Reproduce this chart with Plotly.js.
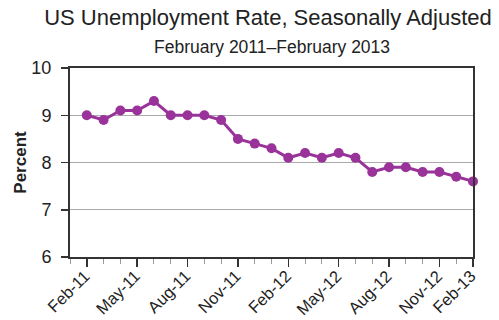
<!DOCTYPE html>
<html>
<head>
<meta charset="utf-8">
<script src="https://cdn.plot.ly/plotly-3.0.1.min.js"></script>
<style>html,body{margin:0;padding:0;background:#fff;}</style>
</head>
<body>
<div id="chart" style="width:499px;height:320px;"></div>
<script>
var months = ["Feb-11","Mar-11","Apr-11","May-11","Jun-11","Jul-11","Aug-11","Sep-11","Oct-11","Nov-11","Dec-11",
              "Jan-12","Feb-12","Mar-12","Apr-12","May-12","Jun-12","Jul-12","Aug-12","Sep-12","Oct-12","Nov-12","Dec-12","Feb-13"];
var rate = [9.0, 8.9, 9.1, 9.1, 9.3, 9.0, 9.0, 9.0, 8.9, 8.5, 8.4, 8.3,
            8.1, 8.2, 8.1, 8.2, 8.1, 7.8, 7.9, 7.9, 7.8, 7.8, 7.7, 7.6];
var tickLabels = ["Feb-11","May-11","Aug-11","Nov-11","Feb-12","May-12","Aug-12","Nov-12","Feb-13"];
var yTicks = [6, 7, 8, 9, 10];

var idx = months.map(function(m, i){ return i; });
var tickPos = tickLabels.map(function(l){ return months.indexOf(l); });
var minorPos = [-1].concat(idx);

var FONT = "'Liberation Sans', Arial, sans-serif";

var trace = {
  x: idx, y: rate, type: 'scatter', mode: 'lines+markers',
  line: {color: '#993399', width: 3},
  marker: {color: '#993399', size: 10},
  cliponaxis: false,
  hoverinfo: 'skip'
};

var layout = {
  width: 499, height: 320,
  margin: {l: 70, r: 26, t: 68, b: 63},
  paper_bgcolor: '#fff', plot_bgcolor: '#fff',
  showlegend: false,
  font: {family: FONT, color: '#222'},
  title: {
    text: "US Unemployment Rate, Seasonally Adjusted",
    font: {family: FONT, size: 22, color: '#222'},
    x: 0.537, xanchor: 'center', xref: 'container',
    y: 0.97, yanchor: 'top', yref: 'container'
  },
  annotations: [{
    text: "February 2011–February 2013",
    font: {family: FONT, size: 17.5, color: '#222'},
    xref: 'paper', yref: 'paper', x: 0.5, y: 1.0, xanchor: 'center', yanchor: 'bottom',
    yshift: 9, showarrow: false
  }],
  xaxis: {
    range: [-1, months.length - 1],
    tickmode: 'array', tickvals: tickPos, ticktext: tickLabels,
    tickangle: -45, ticks: 'outside', ticklen: 8, tickwidth: 1.5, tickcolor: '#333',
    ticklabelstandoff: -7, ticklabelshift: -2,
    tickfont: {family: FONT, size: 16.5, color: '#222'},
    minor: {tickmode: 'array', tickvals: minorPos, ticks: 'outside', ticklen: 5, tickcolor: '#999', tickwidth: 1},
    showline: true, linecolor: '#333', linewidth: 2, mirror: true,
    showgrid: false, zeroline: false, fixedrange: true
  },
  yaxis: {
    range: [6, 10],
    tickmode: 'array', tickvals: yTicks, ticktext: yTicks.map(String),
    ticks: 'outside', ticklen: 7, tickwidth: 1.5, tickcolor: '#333',
    ticklabelstandoff: 6,
    tickfont: {family: FONT, size: 18, color: '#222'},
    showline: true, linecolor: '#333', linewidth: 2, mirror: true,
    showgrid: true, gridcolor: '#aaa', gridwidth: 1, zeroline: false,
    title: {text: '<b>Percent</b>', font: {family: FONT, size: 17, color: '#222'}, standoff: 0},
    fixedrange: true
  }
};

Plotly.newPlot('chart', [trace], layout, {displayModeBar: false, staticPlot: true});
</script>
</body>
</html>
